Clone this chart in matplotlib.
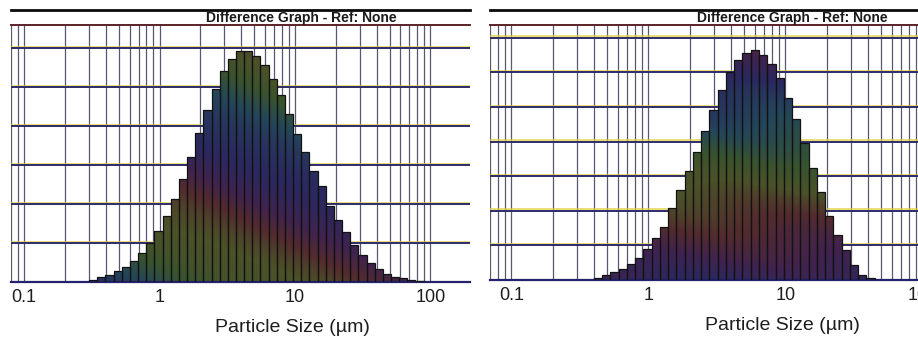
import numpy as np
import matplotlib
matplotlib.use("Agg")
import matplotlib.pyplot as plt
import matplotlib.patheffects as pe
from matplotlib.colors import LinearSegmentedColormap
from matplotlib.path import Path
from matplotlib.patches import PathPatch
from matplotlib.ticker import LogLocator, FixedLocator, NullFormatter

plt.rcParams['font.family'] = ['Liberation Sans', 'DejaVu Sans']

# size classes: geometric, ~16.6 classes per decade
bins_per_decade = 16.6

# left graph (volume % per class)
left_first_um = 0.302
left_vol = [0.06, 0.12, 0.18, 0.28, 0.39, 0.54, 0.75, 1.01, 1.30, 1.68,
            2.14, 2.65, 3.20, 3.82, 4.40, 4.94, 5.41, 5.73, 5.93, 5.93,
            5.80, 5.57, 5.21, 4.80, 4.30, 3.80, 3.34, 2.85, 2.45, 1.95,
            1.58, 1.27, 0.94, 0.69, 0.50, 0.33, 0.21, 0.14, 0.09, 0.05, 0.03]

# right graph
right_first_um = 0.40
right_vol = [0.07, 0.14, 0.22, 0.31, 0.46, 0.64, 0.90, 1.22, 1.54, 2.07,
             2.59, 3.16, 3.71, 4.31, 4.92, 5.50, 6.00, 6.35, 6.57, 6.64,
             6.51, 6.24, 5.84, 5.27, 4.64, 3.97, 3.24, 2.53, 1.86, 1.29,
             0.86, 0.43, 0.14, 0.05]

size_ticks = [0.1, 1, 10, 100]
size_tick_labels = ["0.1", "1", "10", "100"]
title_text = "Difference Graph - Ref: None"
x_label = "Particle Size (\u00b5m)"

# dark "scanned print" colours cycling through the bars
moire = LinearSegmentedColormap.from_list(
    "moire", ["#4b5128", "#532a2d", "#40224f", "#29285f",
              "#23465a", "#38532e", "#4b5128"])

W, H = 918, 341
fig = plt.figure(figsize=(W / 100, H / 100), dpi=100)


def draw_panel(rect_px, first_um, vol, xlim, ytop, band, lab_x, title_x):
    x0, x1, ytop_px, ybot_px = rect_px
    ax = fig.add_axes([x0 / W, 1 - ybot_px / H, (x1 - x0) / W, (ybot_px - ytop_px) / H])
    ax.set_xscale('log')
    ax.set_xlim(*xlim)
    ax.set_ylim(0, ytop)

    n = len(vol)
    edges = first_um * 10 ** (np.arange(n + 1) / bins_per_decade)
    bars = ax.bar(edges[:-1], vol, width=np.diff(edges), align='edge',
                  facecolor='none', edgecolor='#121212', linewidth=0.9, zorder=3)

    # coloured fill clipped to bar outlines
    paths = [b.get_path().transformed(b.get_patch_transform()) for b in bars]
    clip = PathPatch(Path.make_compound_path(*paths), transform=ax.transData,
                     facecolor='none', edgecolor='none')
    gx = np.geomspace(xlim[0], xlim[1], 300)
    gy = np.linspace(0, ytop, 200)
    GX, GY = np.meshgrid(gx, gy)
    lx = np.log10(GX)
    ky, kx, ph = band
    t = (ph + ky * GY + kx * lx + 0.05 * np.sin(4.0 * lx + 2.0 * GY)) % 1.0
    mesh = ax.pcolormesh(gx, gy, t, cmap=moire, vmin=0, vmax=1,
                         shading='nearest', zorder=2.5)
    mesh.set_clip_path(clip)

    # grid
    ax.xaxis.set_major_locator(FixedLocator(size_ticks))
    ax.xaxis.set_minor_locator(LogLocator(base=10, subs=np.arange(2, 10)))
    ax.xaxis.set_minor_formatter(NullFormatter())
    ax.set_xticklabels(size_tick_labels)
    ax.set_yticks(np.arange(1, int(ytop) + 1))
    ax.set_yticklabels([])
    ax.grid(which='both', axis='x', color='#5a5670', linewidth=0.9, zorder=1)
    ax.grid(which='major', axis='y', color='#2d2b6b', linewidth=1.4, zorder=1,
            path_effects=[pe.SimpleLineShadow(offset=(0, 1.0), shadow_color='#e2cf3c',
                                              alpha=0.7, rho=1), pe.Normal()])
    ax.set_axisbelow(True)
    ax.tick_params(axis='both', which='both', length=0)
    ax.tick_params(axis='x', pad=5, labelsize=13, labelcolor='#1e1e1e')

    for s in ('left', 'right'):
        ax.spines[s].set_visible(False)
    ax.spines['top'].set_color('#5c2228')
    ax.spines['top'].set_linewidth(1.4)
    ax.spines['bottom'].set_color('#23226a')
    ax.spines['bottom'].set_linewidth(1.6)

    hpx = ybot_px - ytop_px
    top_line = 1 + (ytop_px - 10) / hpx
    ax.plot([0, 1], [top_line, top_line], transform=ax.transAxes, color='#0a0a0a',
            linewidth=2.0, clip_on=False)
    ax.text(title_x, 1 + 7 / hpx, title_text, transform=ax.transAxes, ha='center',
            va='center', fontsize=10, fontweight='bold', color='#1a1a1a')
    ax.text(lab_x, -46 / hpx, x_label, transform=ax.transAxes, ha='center',
            va='center', fontsize=14, color='#1e1e1e')
    return ax


draw_panel((11, 470, 25, 282), left_first_um, left_vol, (0.080, 196), 6.59,
           (0.18, 0.30, -0.275), 0.614, 0.632)
draw_panel((490, 960, 25, 280), right_first_um, right_vol, (0.0697, 188), 7.37,
           (-0.17, 0.0, 0.44), 0.623, 0.643)

fig.savefig("out.png", dpi=100)
